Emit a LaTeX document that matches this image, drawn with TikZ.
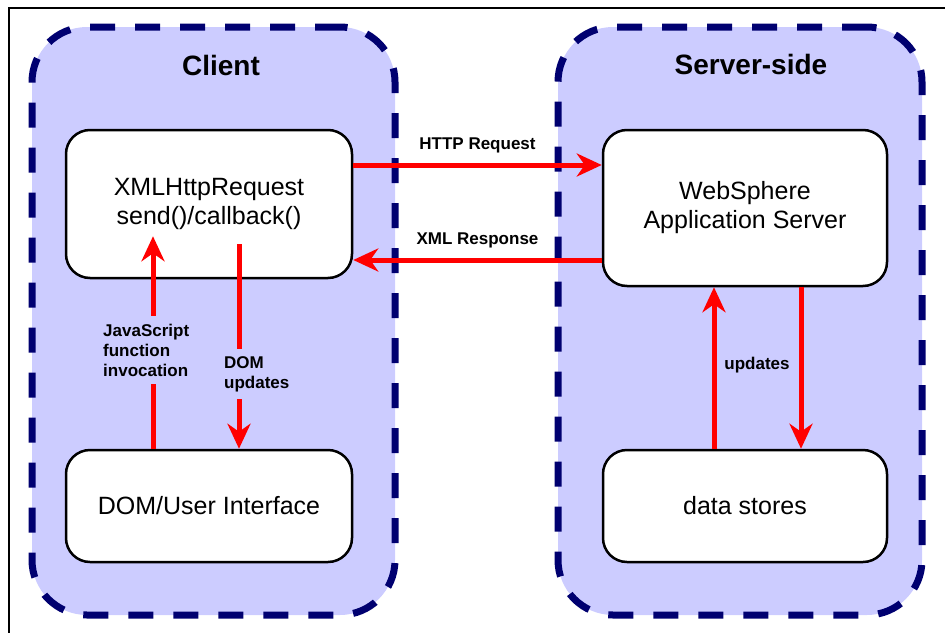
\documentclass[tikz,border=0pt]{standalone}
\usepackage{fontspec}
\setmainfont{Liberation Sans}
\usetikzlibrary{positioning,arrows.meta}
\definecolor{zonefill}{RGB}{204,204,255}
\definecolor{zoneline}{RGB}{0,0,112}

\begin{document}
\begin{tikzpicture}[x=1pt, y=-1pt,
    zone/.style = {draw=zoneline, fill=zonefill, line width=7pt, dash pattern=on 25pt off 20pt, rounded corners=55pt, minimum width=363pt, minimum height=588pt},
    main/.style = {draw, fill=white, line width=2.5pt, rounded corners=24pt, align=center, font=\fontsize{25}{29}\selectfont},
    title/.style = {font=\fontsize{28}{32}\selectfont\bfseries},
    lbl/.style = {font=\fontsize{17}{20}\selectfont\bfseries, align=left, inner sep=2pt},
    flow/.style = {draw=red, line width=5pt, -{Stealth[length=25pt,width=23pt,inset=8pt]}}
    ]
\useasboundingbox (0,0) rectangle (945,632);
\draw[line width=1.2pt] (9,700) -- (9,8) -- (1000,8);

% the two sides
\node[zone] (client) at (213.5,321) {};
\node[zone, minimum width=364pt] (server) at (740,321) {};
\node[title] (ctitle) at (221,65) {Client};
\node[title] (stitle) at (751,64) {Server-side};

\node[main, minimum width=286pt, minimum height=148pt] (xhr) at (209,204) {XMLHttpRequest\\send()/callback()};
\node[main, minimum width=284pt, minimum height=156pt] (ws) at (745,208) {WebSphere\\Application Server};
\node[main, minimum width=286pt, minimum height=112pt] (ui) at (209,506) {DOM/User Interface};
\node[main, minimum width=284pt, minimum height=112pt] (ds) at (745,506) {data stores};

% client <-> server
\draw[flow] ([yshift=39pt]xhr.east) -- ([yshift=39pt]xhr.east -| ws.west) node[lbl, midway, above=7pt] {HTTP Request};
\draw[flow] ([yshift=-52pt]ws.west) -- ([yshift=-52pt]ws.west -| xhr.east) node[lbl, midway, above=7pt] {XML Response};

% inside the client
\draw[flow] ([xshift=-56pt]ui.north) -- ([xshift=-56pt,yshift=43pt]xhr.south);
\draw[flow] ([xshift=30pt,yshift=35pt]xhr.south) -- ([xshift=30pt]ui.north);
\node[lbl, fill=zonefill, inner ysep=8pt, anchor=west] (js) at (101,350) {JavaScript\\function\\invocation};
\node[lbl, fill=zonefill, inner ysep=7pt, anchor=west] (dom) at (222,374) {DOM\\updates};

% inside the server
\draw[flow] ([xshift=-31pt]ds.north) -- ([xshift=-31pt]ws.south);
\draw[flow] ([xshift=56pt]ws.south) -- ([xshift=56pt]ds.north);
\node[lbl] (upd) at (757,365) {updates};

\end{tikzpicture}
\end{document}
